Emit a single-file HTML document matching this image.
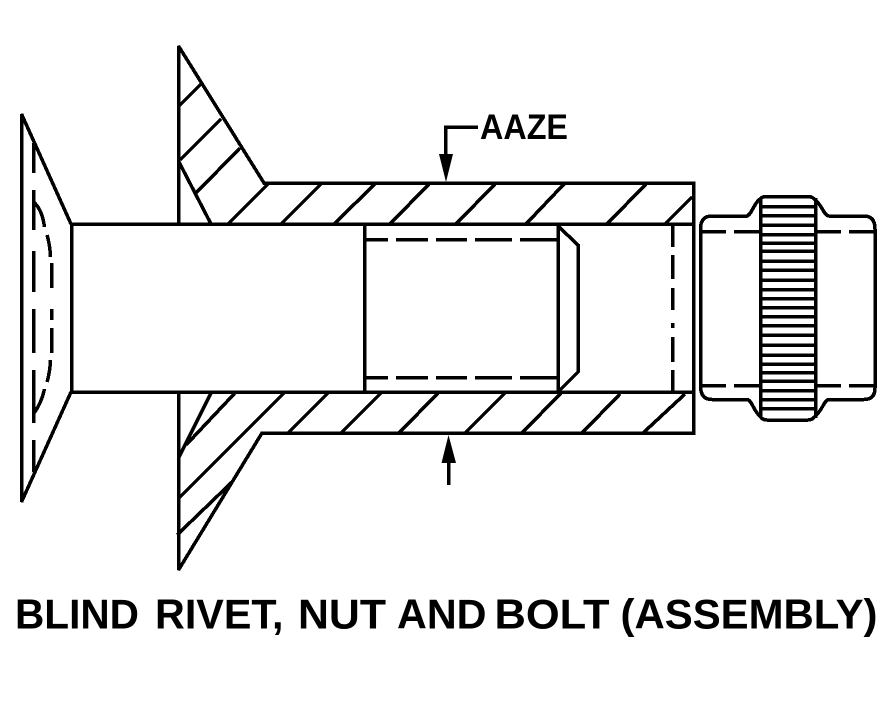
<!DOCTYPE html>
<html><head><meta charset="utf-8"><style>html,body{margin:0;padding:0;background:#fff}svg{display:block}</style></head>
<body>
<svg width="889" height="709" viewBox="0 0 889 709" xmlns="http://www.w3.org/2000/svg">
<rect width="889" height="709" fill="#fff"/>
<g fill="none" stroke="#000" stroke-width="3.5" stroke-linejoin="miter" stroke-miterlimit="3" shape-rendering="crispEdges">
<!-- left cone -->
<path d="M71 224L21.5 114V502L71 392"/>
<path d="M71.5 224V392"/>
<path d="M33.5 143V173M33.5 190V230M33.5 251V292M33.5 309V353M33.5 370V423M33.5 440V472"/>
<path d="M33.5 202Q42 209 44.5 227M47 235Q50 245 50.5 257M51.5 263V288M51.5 309V320M51.5 328V353M50.5 360Q50 372 47 382M44.5 389Q42 402 33.5 414"/>
<!-- main lines -->
<path d="M71 224H693M71 392H693"/>
<path d="M178.5 224V46L264 183H693.5V433H262L178.5 570V392"/>
<path d="M179 162L211 224M179 457L211 393"/>
<!-- hatches upper flange -->
<path d="M179 106L201 84M180 160L221 119M196 193L240 148M228 224L268 184"/>
<path d="M281 224L322 183M334 224L376 183M390 224L430 183M456 224L496 183M526 224L565 183M607 224L647 183M665 224L692 197"/>
<!-- hatches lower -->
<path d="M186 445L235 393M179 498L284 393M177 535L232 482"/>
<path d="M288 433L328 393M341 433L381 393M399 433L439 392M465 433L506 392M522 433L562 392M582 433L620 394M643 433L685 394"/>
<!-- thread -->
<path d="M364.5 224V392M558 224V392M558 226L578 245V372L558 392"/>
<path d="M366 239.5H388M396 239.5H428M436 239.5H467M475 239.5H512M520 239.5H558"/>
<path d="M366 377.5H388M396 377.5H428M436 377.5H467M475 377.5H512M520 377.5H558"/>
<!-- right dashed -->
<path d="M672.5 225V247M672.5 255V279M672.5 288V310M672.5 323V328M672.5 337V362M672.5 370V392"/>
<!-- leader lines -->
<path d="M478 127H445.5V156M448.5 461V485"/>
<!-- nut -->
<path d="M700.5 386V229Q700.5 216 712 216H747C752 214 754 203 760 199Q762 196.5 767 196.5H808Q813 196.5 816 201C822 205 824 216 829 216H864Q875 216 875 229V388Q875 399.5 864 399.5H829C824 400 822 411 816 415Q813 420 808 420H767Q762 420 760 416C754 412 752 400 747 399.5H712Q700.5 399.5 700.5 386Z"/>
<path d="M700 231.5H726M734 231.5H760M815 231.5H841M849 231.5H875"/>
<path d="M700 385.5H726M734 385.5H760M815 385.5H841M849 385.5H875"/>
<path d="M760.5 198V418M815.5 198V418"/>
<path d="M760 206.5H815M760 215.5H815M760 225H815M760 234.5H815M760 243H815M760 251H815M760 261H815M760 270H815M760 280H815M760 289.5H815M760 298.5H815M760 307.5H815M760 316.5H815M760 325.5H815M760 335H815M760 345H815M760 355H815M760 364H815M760 372.5H815M760 381H815M760 390.5H815M760 399.5H815M760 408.5H815"/>
</g>
<!-- arrowheads -->
<polygon points="439,154 453,154 446,182" fill="#000"/>
<polygon points="441.5,463 456,463 448.5,435" fill="#000"/>
<!-- text -->
<g font-family="'Liberation Sans',sans-serif" font-weight="700" fill="#000">
<text x="480" y="139" font-size="35" textLength="88" lengthAdjust="spacingAndGlyphs">AAZE</text>
<text x="15" y="628.5" font-size="42" textLength="124" lengthAdjust="spacingAndGlyphs">BLIND</text>
<text x="155" y="628.5" font-size="42" textLength="128.5" lengthAdjust="spacingAndGlyphs">RIVET,</text>
<text x="298" y="628.5" font-size="42" textLength="88" lengthAdjust="spacingAndGlyphs">NUT</text>
<text x="397" y="628.5" font-size="42" textLength="89.5" lengthAdjust="spacingAndGlyphs">AND</text>
<text x="494.5" y="628.5" font-size="42" textLength="115" lengthAdjust="spacingAndGlyphs">BOLT</text>
<text x="620.5" y="628.5" font-size="42" textLength="257" lengthAdjust="spacingAndGlyphs">(ASSEMBLY)</text>
</g>
</svg>
</body></html>
